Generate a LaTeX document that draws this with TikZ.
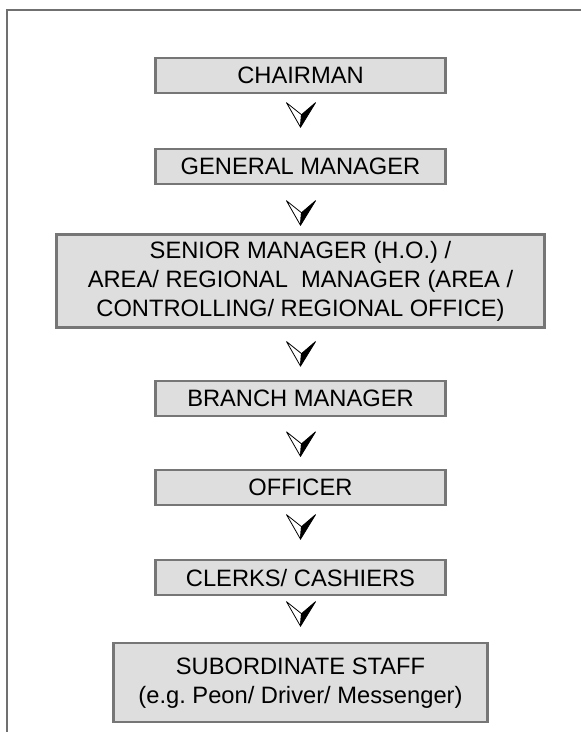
\documentclass[tikz,border=0pt]{standalone}
\usepackage{fontspec}
\setmainfont{Liberation Sans}
\definecolor{boxfill}{RGB}{222,222,222}
\definecolor{boxline}{RGB}{118,118,118}
\definecolor{frameline}{RGB}{112,112,112}
\tikzset{
  post/.style={rectangle, draw=boxline, line width=2.2pt, fill=boxfill, align=center, inner sep=0pt,
    minimum width=290pt, minimum height=35pt, font=\fontsize{23.7}{29}\selectfont},
  headmark/.pic={
    \filldraw[fill=white, draw=black, line width=0.8pt, line join=round] (-14,-12) -- (1,0) -- (0,12.5) -- cycle;
    \filldraw[fill=black, draw=black, line width=0.8pt, line join=round] (1,0) -- (15,-12) -- (0,12.5) -- cycle;
  }
}
\frenchspacing
\begin{document}
\begin{tikzpicture}[x=1pt,y=-1pt]
\useasboundingbox (0,0) rectangle (581,732);
\draw[frameline, line width=2.7pt] (581,10) -- (7,10) -- (7,732);
\node[post, anchor=north] at (300.5,57) (L1) {CHAIRMAN};
\node[post, anchor=north] at ([yshift=-54pt]L1.south) (L2) {GENERAL MANAGER};
\node[post, anchor=north, minimum width=488pt, minimum height=93pt] at ([yshift=-48pt]L2.south) (L3) {SENIOR MANAGER (H.O.) /\\AREA/ REGIONAL\ \ MANAGER (AREA /\\CONTROLLING/ REGIONAL OFFICE)};
\node[post, anchor=north] at ([yshift=-51pt]L3.south) (L4) {BRANCH MANAGER};
\node[post, anchor=north] at ([yshift=-52pt]L4.south) (L5) {OFFICER};
\node[post, anchor=north] at ([yshift=-53pt]L5.south) (L6) {CLERKS/ CASHIERS};
\node[post, anchor=north, minimum width=374pt, minimum height=79pt] at ([yshift=-46pt]L6.south) (L7) {SUBORDINATE STAFF\\(e.g. Peon/ Driver/ Messenger)};
\path (L1) -- (L2) pic[pos=.38]{headmark};
\path (L2) -- (L3) pic[pos=.57]{headmark};
\path (L3) -- (L4) pic[pos=.49]{headmark};
\path (L4) -- (L5) pic[pos=.52]{headmark};
\path (L5) -- (L6) pic[pos=.39]{headmark};
\path (L6) -- (L7) pic[pos=.38]{headmark};
\end{tikzpicture}
\end{document}
